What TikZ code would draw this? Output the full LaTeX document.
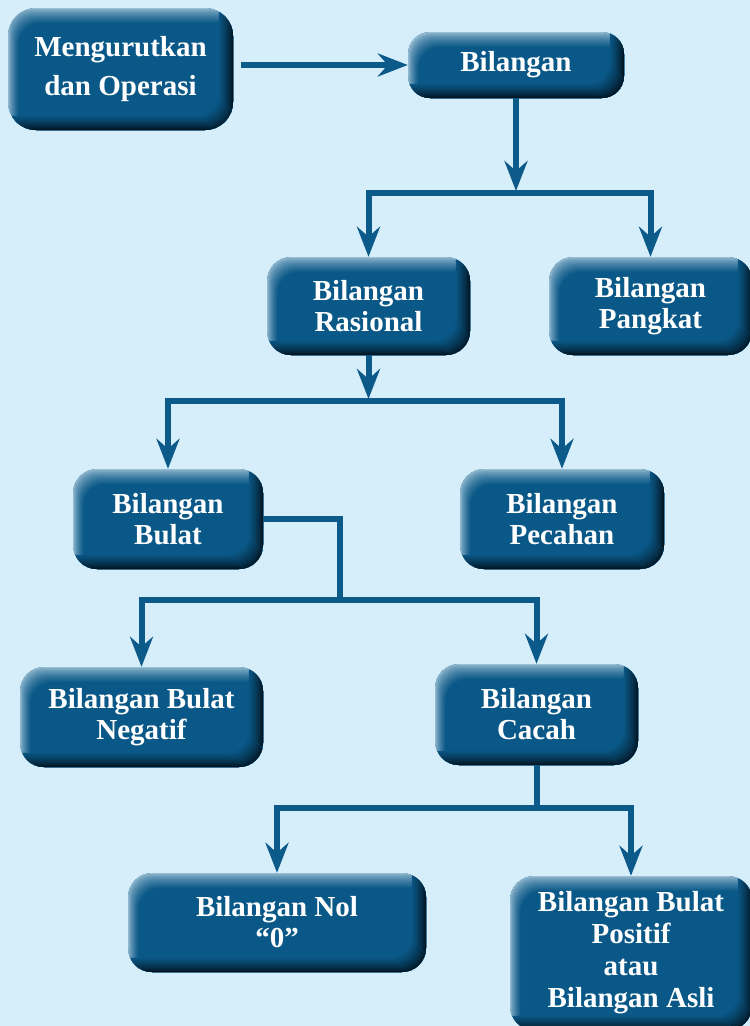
\documentclass[tikz,border=0pt]{standalone}
\usepackage{fontspec}
\setmainfont{Liberation Serif}
\usetikzlibrary{arrows.meta}
\definecolor{bg}{HTML}{D6EEF9}
\definecolor{boxmain}{HTML}{0A5887}
\definecolor{boxdark}{HTML}{011420}
\definecolor{boxlight}{HTML}{9ABED3}
\definecolor{linec}{HTML}{0B5A8A}
\tikzset{
  bev/.style={rounded corners=24pt, inner sep=0pt, align=center, text=white,
    font=\fontsize{29}{31}\selectfont\bfseries, fill=boxmain,
    path picture={
      % light layers (top and left), stacked, lower-right corner outside the box
      \foreach \k in {0,...,13}{
        \pgfmathsetmacro{\pc}{100*(\k/13)^0.7}
        \fill[rounded corners=22pt, boxmain!\pc!boxlight]
          ([shift={(\k*0.8pt,-\k*1.15pt)}]path picture bounding box.north west) rectangle
          ([shift={(30pt,-30pt)}]path picture bounding box.south east);
      }
      % dark rings (bottom and right)
      \foreach \k in {0,...,13}{
        \pgfmathsetmacro{\pc}{100*(\k/14)^0.75}
        \pgfmathsetmacro{\ka}{\k*1.0}
        \pgfmathsetmacro{\kb}{(\k+1)*1.0+0.15}
        \fill[rounded corners=22pt, even odd rule, boxmain!\pc!boxdark]
          ([shift={(-30pt,30pt)}]path picture bounding box.north west) rectangle
          ([shift={(-\ka pt,\ka pt)}]path picture bounding box.south east)
          ([shift={(-30pt,30pt)}]path picture bounding box.north west) rectangle
          ([shift={(-\kb pt,\kb pt)}]path picture bounding box.south east);
      }
    }},
  conn/.style={draw=linec, line width=6pt},
  arr/.style={conn, -{Stealth[length=30pt,width=23pt,inset=10pt]}}
}
\begin{document}
\begin{tikzpicture}[x=1pt,y=-1pt]
\clip (0,0) rectangle (750,1026);
\fill[bg] (0,0) rectangle (750,1026);

\node[bev, rounded corners=28pt, minimum width=225pt, minimum height=122pt] (m) at (120.5,69)
  {Mengurutkan\\[8pt]dan Operasi};
\node[bev, rounded corners=22pt, minimum width=216pt, minimum height=66pt] (b) at (516,65) {Bilangan};
\node[bev, minimum width=203pt, minimum height=98pt] (r) at (368.5,306) {Bilangan\\Rasional};
\node[bev, minimum width=203pt, minimum height=98pt] (p) at (650.5,306) {Bilangan\\Pangkat};
\node[bev, minimum width=190pt, minimum height=100pt] (bb) at (168,519) {Bilangan\\Bulat};
\node[bev, minimum width=204pt, minimum height=100pt] (pc) at (562,519) {Bilangan\\Pecahan};
\node[bev, minimum width=243pt, minimum height=100pt] (neg) at (141.5,717) {Bilangan Bulat\\Negatif};
\node[bev, minimum width=203pt, minimum height=101pt] (cc) at (536.5,714.5) {Bilangan\\Cacah};
\node[bev, minimum width=298pt, minimum height=99pt] (nol) at (277,922.5) {Bilangan Nol\\``0''};
\node[bev, font=\fontsize{29}{32}\selectfont\bfseries, minimum width=242pt, minimum height=154pt] (pos) at (631,953)
  {Bilangan Bulat\\Positif\\atau\\Bilangan Asli};

\coordinate (j1) at (516,193);
\coordinate (j2) at (368.5,401);
\coordinate (j3) at (340,600);
\coordinate (j4) at (536.5,808);

\draw[arr] ([xshift=8pt]m.east |- b.west) -- (b.west);
\draw[arr] (b.south) -- ([yshift=2pt]j1);
\draw[arr] (j1) -| (r.north);
\draw[arr] (j1) -| (p.north);
\draw[arr] (r.south) -- ([yshift=2pt]j2);
\draw[arr] (j2) -| (bb.north);
\draw[arr] (j2) -| (pc.north);
\draw[conn] (bb.east) -| ([yshift=-3pt]j3);
\draw[arr] (j3) -| (neg.north);
\draw[arr] (j3) -| (cc.north);
\draw[conn] (cc.south) -- ([yshift=-3pt]j4);
\draw[arr] (j4) -| (nol.north);
\draw[arr] (j4) -| (pos.north);
\end{tikzpicture}
\end{document}
